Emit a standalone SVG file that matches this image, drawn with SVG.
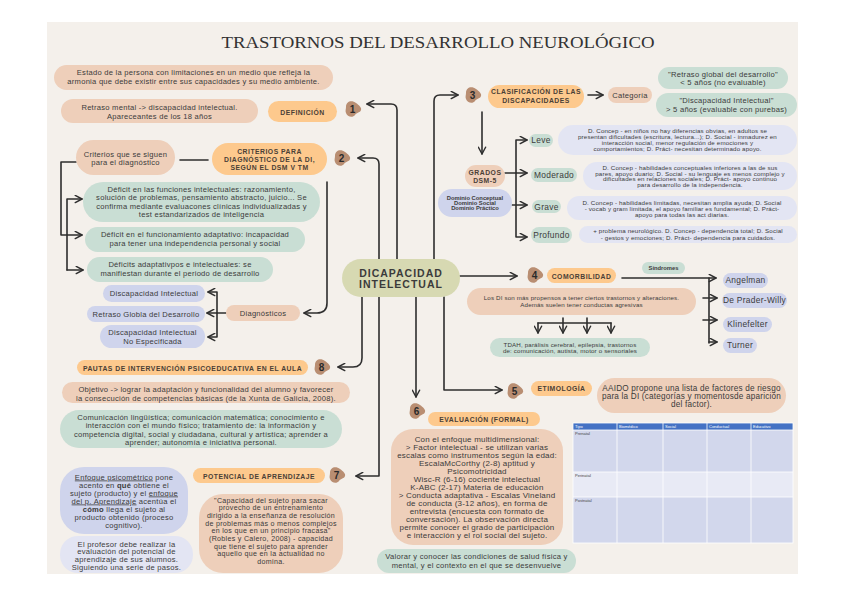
<svg xmlns="http://www.w3.org/2000/svg" width="848" height="599" viewBox="0 0 848 599">
<defs>
<style>
.t{font-family:"Liberation Sans",Arial,sans-serif;fill:#3b3b3b;text-anchor:middle}
.b{font-size:7.6px;letter-spacing:0.25px}
.c{font-size:7.1px;letter-spacing:0.3px}
.sm{font-size:6.2px;letter-spacing:0.15px}
.hd{font-size:6.8px;font-weight:bold;letter-spacing:0.5px;fill:#4a4036}
.lb{font-size:8.4px;letter-spacing:0.3px}
.num{font-size:10px;font-weight:bold;fill:#2a2a2a}
.ln{fill:none;stroke:#2e2e2e;stroke-width:1.6;stroke-linecap:round;stroke-linejoin:round}
.ar{marker-end:url(#ah)}
.pe{fill:#eecfba}
.or{fill:#fdc98d}
.gr{fill:#c9ded4}
.lv{fill:#cfd4ec}
.ll{fill:#e3e5f3}
.ol{fill:#d7d9b2}
.bl{fill:#b98e72}
.th{font-family:"Liberation Sans",Arial,sans-serif;font-size:4px;fill:#ffffff}
.tr{font-family:"Liberation Sans",Arial,sans-serif;font-size:4px;fill:#444444}
</style>
<marker id="ah" viewBox="0 0 10 10" refX="8.5" refY="5" markerWidth="9" markerHeight="9" markerUnits="userSpaceOnUse" orient="auto">
<path d="M1,1 L8.5,5 L1,9" fill="none" stroke="#2e2e2e" stroke-width="1.6" stroke-linecap="round" stroke-linejoin="round"/>
</marker>
<path id="blob" d="M-7,-2 C-7,-8 -1,-9 3,-6 C6,-4 9,-1 8,1 C7,4 4,3 2,6 C0,9 -6,8 -7,4 C-8,2 -7,0 -7,-2 Z"/>
</defs>
<rect width="848" height="599" fill="#ffffff"/>
<rect x="47" y="22" width="751" height="552" fill="#f4f0eb"/>
<text x="438" y="48" font-family="Liberation Serif,Times New Roman,serif" font-size="17.5" fill="#333333" text-anchor="middle" textLength="433" lengthAdjust="spacingAndGlyphs">TRASTORNOS DEL DESARROLLO NEUROLÓGICO</text>

<g id="connectors">
<path class="ln ar" d="M379,259 V164 Q379,158 373,158 H358"/>
<path class="ln ar" d="M397,259 V110 Q397,104 391,104 H367"/>
<path class="ln ar" d="M434,259 V101 Q434,95 440,95 H458"/>
<path class="ln ar" d="M460,276 H517"/>
<path class="ln ar" d="M362,297 V358 Q362,367 353,367 H338"/>
<path class="ln ar" d="M379,297 V476 H356"/>
<path class="ln ar" d="M416,297 V397"/>
<path class="ln ar" d="M444,297 V390 H502"/>
<path class="ln" d="M180,160 H208"/>
<path class="ln ar" d="M327,182 V303 Q327,313 317,313 H304"/>
<path class="ln ar" d="M76,162 H61 V235 H82"/>
<path class="ln ar" d="M67,270 V199 H82"/>
<path class="ln ar" d="M67,270 H83"/>
<path class="ln ar" d="M226,313 H207"/>
<path class="ln ar" d="M217,313 V292 H208"/>
<path class="ln ar" d="M217,313 V337 H208"/>
<path class="ln ar" d="M588,95 H603"/>
<path class="ln ar" d="M482,112 V154"/>
<path class="ln ar" d="M505,173 H527"/>
<path class="ln ar" d="M516,173 V140 H527"/>
<path class="ln ar" d="M512,205 H527"/>
<path class="ln ar" d="M516,173 V237 H527"/>
<path class="ln ar" d="M622,278 H716"/>
<path class="ln" d="M709,278 V343"/>
<path class="ln ar" d="M703,298 H717"/>
<path class="ln ar" d="M703,320 H717"/>
<path class="ln ar" d="M709,342 H717"/>
<path class="ln" d="M538,323 H611"/>
<path class="ln ar" d="M538,323 V333"/>
<path class="ln ar" d="M563,318 V333"/>
<path class="ln ar" d="M587,318 V333"/>
<path class="ln ar" d="M611,323 V333"/>
</g>

<g id="n-estado"><rect class="pe" x="54" y="65" width="279" height="25" rx="12.5"/>
<text class="t b" x="193.5" y="75">Estado de la persona con limitaciones en un medio que refleja la</text>
<text class="t b" x="193.5" y="84">armonia que debe existir entre sus capacidades y su medio ambiente.</text></g>
<g id="n-retraso"><rect class="pe" x="61" y="99" width="197" height="24" rx="12"/>
<text class="t b" x="159.5" y="109.5">Retraso mental -&gt; discapacidad intelectual.</text>
<text class="t b" x="159.5" y="118.5">Apareceantes de los 18 años</text></g>
<g id="n-definicion"><rect class="or" x="268" y="101" width="69" height="21" rx="10.5"/>
<text class="t hd" x="302.5" y="114.5">DEFINICIÓN</text></g>
<g id="b1"><use href="#blob" x="353" y="109" class="bl"/><text class="t num" x="352.5" y="112.5">1</text></g>

<g id="n-criterios-sig"><rect class="pe" x="76" y="140" width="99" height="35" rx="17.5"/>
<text class="t b" x="125.5" y="157">Criterios que se siguen</text>
<text class="t b" x="125.5" y="165">para el diagnóstico</text></g>
<g id="n-criterios"><rect class="or" x="212" y="143" width="115" height="32" rx="16"/>
<text class="t hd" x="269.5" y="153.5">CRITERIOS PARA</text>
<text class="t hd" x="269.5" y="161.5">DIAGNÓSTICO DE LA DI,</text>
<text class="t hd" x="269.5" y="170">SEGÚN EL DSM V TM</text></g>
<g id="b2"><use href="#blob" x="342" y="158" class="bl"/><text class="t num" x="341.5" y="161.5">2</text></g>

<g id="n-def1"><rect class="gr" x="83" y="182" width="237" height="40" rx="20"/>
<text class="t b" x="201.5" y="191.5">Déficit en las funciones intelectuales: razonamiento,</text>
<text class="t b" x="201.5" y="200">solución de problemas, pensamiento abstracto, juicio... Se</text>
<text class="t b" x="201.5" y="208.5">confirma mediante evaluacones clínicas individualizadas y</text>
<text class="t b" x="201.5" y="216.5">test estandarizados de inteligencia</text></g>
<g id="n-def2"><rect class="gr" x="85" y="227" width="220" height="25" rx="12.5"/>
<text class="t b" x="195" y="236.5">Déficit en el funcionamiento adaptativo: incapacidad</text>
<text class="t b" x="195" y="245.5">para tener una independencia personal y social</text></g>
<g id="n-def3"><rect class="gr" x="87" y="257" width="186" height="25" rx="12.5"/>
<text class="t b" x="180" y="267">Déficits adaptativpos e intelectuales: se</text>
<text class="t b" x="180" y="275.5">manifiestan durante el periodo de desarrollo</text></g>

<g id="n-di"><rect class="lv" x="103" y="285" width="102" height="17" rx="8.5"/>
<text class="t b" x="154" y="296">Discapacidad Intelectual</text></g>
<g id="n-rgd"><rect class="lv" x="87" y="306" width="118" height="16" rx="8"/>
<text class="t b" x="146" y="316.5">Retraso Globla del Desarrollo</text></g>
<g id="n-dine"><rect class="lv" x="100" y="325" width="105" height="23" rx="11.5"/>
<text class="t b" x="152.5" y="335">Discapacidad Intelectual</text>
<text class="t b" x="152.5" y="343.5">No Especificada</text></g>
<g id="n-diag"><rect class="pe" x="226" y="305" width="74" height="16" rx="8"/>
<text class="t b" x="263" y="315.5">Diagnósticos</text></g>

<g id="n-pautas"><rect class="or" x="77" y="360" width="231" height="15" rx="7.5"/>
<text class="t hd" x="192.5" y="370.5" font-size="6.6">PAUTAS DE INTERVENCIÓN PSICOEDUCATIVA EN EL AULA</text></g>
<g id="b8"><use href="#blob" x="322" y="367" class="bl"/><text class="t num" x="321.5" y="370.5">8</text></g>
<g id="n-objetivo"><rect class="pe" x="62" y="382" width="288" height="21" rx="10.5"/>
<text class="t b" x="206" y="391.5">Objetivo -&gt; lograr la adaptación y funcionalidad del alumno y favorecer</text>
<text class="t b" x="206" y="400.5">la consecución de competencias básicas (de la Xunta de Galicia, 2008).</text></g>
<g id="n-comunic"><rect class="gr" x="60" y="410" width="282" height="38" rx="19"/>
<text class="t b" x="201" y="419.5">Comunicación lingüística; comunicación matemática; conocimiento e</text>
<text class="t b" x="201" y="428">interacción con el mundo físico; tratamiento  de: la información y</text>
<text class="t b" x="201" y="436.5">competencia digital, social y ciudadana, cultural y artística; aprender a</text>
<text class="t b" x="201" y="445">aprender; autonomía e iniciativa personal.</text></g>

<g id="n-potencial"><rect class="or" x="193" y="468" width="132" height="15" rx="7.5"/>
<text class="t hd" x="259" y="478.5" font-size="6.6">POTENCIAL DE APRENDIZAJE</text></g>
<g id="b7"><use href="#blob" x="337" y="475" class="bl"/><text class="t num" x="336.5" y="478.5">7</text></g>
<g id="n-enfoque"><rect class="lv" x="60" y="467" width="128" height="67" rx="24"/>
<text class="t b" x="124" y="479.5"><tspan text-decoration="underline">Enfoque psicométrico</tspan> pone</text>
<text class="t b" x="124" y="487.5">acento en <tspan font-weight="bold">qué</tspan> obtiene el</text>
<text class="t b" x="124" y="495.5">sujeto (producto) y el <tspan text-decoration="underline">enfoque</tspan></text>
<text class="t b" x="124" y="503.5"><tspan text-decoration="underline">del p. Aprendizaje</tspan> acentúa el</text>
<text class="t b" x="124" y="511.5"><tspan font-weight="bold">cómo</tspan> llega el sujeto al</text>
<text class="t b" x="124" y="519.5">producto obtenido (proceso</text>
<text class="t b" x="124" y="527.5">cognitivo).</text></g>
<g id="n-profesor"><rect class="ll" x="60" y="536" width="133" height="37" rx="18"/>
<text class="t b" x="126.5" y="546.5">El profesor debe realizar la</text>
<text class="t b" x="126.5" y="554.2">evaluación del potencial de</text>
<text class="t b" x="126.5" y="561.9">aprendizaje de sus alumnos.</text>
<text class="t b" x="126.5" y="569.6">Siguiendo una serie de pasos.</text></g>
<g id="n-capacidad"><rect class="pe" x="199" y="494" width="144" height="79" rx="24"/>
<text class="t c" x="271" y="502.5">"Capacidad del sujeto para sacar</text>
<text class="t c" x="271" y="510.2">provecho de un entrenamiento</text>
<text class="t c" x="271" y="517.9">dirigido a la enseñanza de resolución</text>
<text class="t c" x="271" y="525.6">de problemas más o menos complejos</text>
<text class="t c" x="271" y="533.3">en los que en un principio fracasa"</text>
<text class="t c" x="271" y="541">(Robles y Calero, 2008) - capacidad</text>
<text class="t c" x="271" y="548.7">que tiene el sujeto para aprender</text>
<text class="t c" x="271" y="556.4">aquello que en la actualidad no</text>
<text class="t c" x="271" y="564.1">domina.</text></g>

<g id="n-center"><rect class="ol" x="342" y="259" width="118" height="38" rx="19"/>
<text class="t" x="401" y="276.7" font-size="10.5" font-weight="bold" letter-spacing="1" fill="#3a3a3a">DICAPACIDAD</text>
<text class="t" x="401" y="288" font-size="10.5" font-weight="bold" letter-spacing="1" fill="#3a3a3a">INTELECTUAL</text></g>

<g id="b3"><use href="#blob" x="473" y="95" class="bl"/><text class="t num" x="472.5" y="98.5">3</text></g>
<g id="n-clasif"><rect class="or" x="488" y="85" width="96" height="23" rx="11.5"/>
<text class="t hd" x="536" y="94.3">CLASIFICACIÓN DE LAS</text>
<text class="t hd" x="536" y="102.7">DISCAPACIDADES</text></g>
<g id="n-categoria"><rect class="pe" x="608" y="87" width="44" height="16" rx="8"/>
<text class="t b" x="630" y="97.5">Categoría</text></g>
<g id="n-rgd2"><rect class="gr" x="658" y="67" width="130" height="22" rx="11"/>
<text class="t b" x="723" y="76.7" font-size="7.3">"Retraso global del desarrollo"</text>
<text class="t b" x="723" y="85.4" font-size="7.3">&lt; 5 años (no evaluable)</text></g>
<g id="n-di2"><rect class="gr" x="656" y="93" width="141" height="24" rx="12"/>
<text class="t b" x="726.5" y="103.4" font-size="7.3">"Discapacidad Intelectual"</text>
<text class="t b" x="726.5" y="112" font-size="7.3">&gt; 5 años (evaluable con purebas)</text></g>

<g id="n-grados"><rect class="pe" x="465" y="165" width="40" height="22" rx="11"/>
<text class="t hd" x="485" y="174.5" font-size="7">GRADOS</text>
<text class="t hd" x="485" y="182.5" font-size="7">DSM-5</text></g>
<g id="n-dominio"><rect class="lv" x="438" y="189" width="74" height="28" rx="14"/>
<text class="t" x="475" y="199.7" font-size="5.8" font-weight="bold" fill="#4a4f6a">Dominio Conceptual</text>
<text class="t" x="475" y="204.5" font-size="5.8" font-weight="bold" fill="#4a4f6a">Dominio Social</text>
<text class="t" x="475" y="209.5" font-size="5.8" font-weight="bold" fill="#4a4f6a">Dominio Práctico</text></g>
<g id="n-leve"><rect class="gr" x="529" y="134" width="24" height="13" rx="6.5"/>
<text class="t lb" x="541" y="143.3">Leve</text></g>
<g id="n-moderado"><rect class="gr" x="531" y="168" width="46" height="14" rx="7"/>
<text class="t lb" x="554" y="178">Moderado</text></g>
<g id="n-grave"><rect class="gr" x="532" y="200" width="29" height="13" rx="6.5"/>
<text class="t lb" x="546.5" y="209.5">Grave</text></g>
<g id="n-profundo"><rect class="gr" x="531" y="227" width="41" height="16" rx="8"/>
<text class="t lb" x="551.5" y="238">Profundo</text></g>
<g id="n-leve-d"><rect class="ll" x="558" y="125" width="239" height="30" rx="15"/>
<text class="t sm" x="677.5" y="133.2">D. Concep - en niños no hay diferencias obvias, en adultos se</text>
<text class="t sm" x="677.5" y="139">presentan dificultades (escritura, lectura...); D. Social - inmadurez en</text>
<text class="t sm" x="677.5" y="145">interacción social, menor regulación de emociones y</text>
<text class="t sm" x="677.5" y="150.5">comportamientos; D. Práct- necesitan determinado apoyo.</text></g>
<g id="n-mod-d"><rect class="ll" x="583" y="162" width="214" height="28" rx="14"/>
<text class="t sm" x="690" y="170">D. Concep - habilidades conceptuales inferiores a las de sus</text>
<text class="t sm" x="690" y="175.6">pares, apoyo duario; D. Social - su lenguaje es menos complejo y</text>
<text class="t sm" x="690" y="181.3">dificultades en relaciones sociales; D. Práct- apoyo continuo</text>
<text class="t sm" x="690" y="187.3">para desarrollo de la independencia.</text></g>
<g id="n-grave-d"><rect class="ll" x="567" y="196" width="230" height="24" rx="12"/>
<text class="t sm" x="682" y="204.6">D. Concep - habilidades limitadas, necesitan amplia ayuda; D. Social</text>
<text class="t sm" x="682" y="211.3">- vocab y gram limitada, el apoyo familiar es fundamental; D. Práct-</text>
<text class="t sm" x="682" y="216.8">apoyo para todas las act diarias.</text></g>
<g id="n-prof-d"><rect class="ll" x="579" y="226" width="218" height="17" rx="8.5"/>
<text class="t sm" x="688" y="233.3">+ problema neurológico. D. Concep - dependencia total; D. Social</text>
<text class="t sm" x="688" y="240">- gestos y emociones; D. Práct- dependencia para cuidados.</text></g>

<g id="b4"><use href="#blob" x="535" y="275" class="bl"/><text class="t num" x="534.5" y="278.5">4</text></g>
<g id="n-comorb"><rect class="or" x="547" y="268" width="69" height="15" rx="7.5"/>
<text class="t hd" x="581.5" y="278.5">COMORBILIDAD</text></g>
<g id="n-sindromes"><rect class="gr" x="642" y="262" width="43" height="12" rx="6"/>
<text class="t" x="663.5" y="270.2" font-size="5.8" font-weight="bold" fill="#4a4a4a">Síndromes</text></g>
<g id="n-angelman"><rect class="lv" x="723" y="273" width="45" height="15" rx="7.5"/>
<text class="t lb" x="745.5" y="283.3" font-size="8">Angelman</text></g>
<g id="n-prader"><rect class="lv" x="722" y="293" width="65" height="15" rx="7.5"/>
<text class="t lb" x="754.5" y="303.3" font-size="8">De Prader-Willy</text></g>
<g id="n-kline"><rect class="lv" x="723" y="317" width="49" height="15" rx="7.5"/>
<text class="t lb" x="747.5" y="327.3" font-size="8">Klinefelter</text></g>
<g id="n-turner"><rect class="lv" x="723" y="338" width="34" height="15" rx="7.5"/>
<text class="t lb" x="740" y="348.3" font-size="8">Turner</text></g>
<g id="n-losdi"><rect class="pe" x="467" y="288" width="229" height="27" rx="13.5"/>
<text class="t sm" x="581.5" y="300.3" font-size="6.5">Los DI son más propensos a tener ciertos trastornos y alteraciones.</text>
<text class="t sm" x="581.5" y="306.6" font-size="6.5">Además suelen tener conductas agresivas</text></g>
<g id="n-tdah"><rect class="gr" x="490" y="338" width="160" height="19" rx="9.5"/>
<text class="t sm" x="570" y="346.5" font-size="6.5">TDAH, parálisis cerebral, epilepsia, trastornos</text>
<text class="t sm" x="570" y="353.3" font-size="6.5">de: comunicación, autista, motor o sensoriales</text></g>

<g id="b5"><use href="#blob" x="515" y="391" class="bl"/><text class="t num" x="514.5" y="394.5">5</text></g>
<g id="n-etimo"><rect class="or" x="531" y="381" width="61" height="15" rx="7.5"/>
<text class="t hd" x="561.5" y="391.2">ETIMOLOGÍA</text></g>
<g id="n-aaido"><rect class="pe" x="597" y="378" width="189" height="35" rx="17.5"/>
<text class="t" x="691.5" y="391.3" font-size="8.2" letter-spacing="0.2">AAIDO propone una lista de factores de riesgo</text>
<text class="t" x="691.5" y="399" font-size="8.2" letter-spacing="0.2">para la DI (categorías y momentosde aparición</text>
<text class="t" x="691.5" y="407" font-size="8.2" letter-spacing="0.2">del factor).</text></g>

<g id="b6"><use href="#blob" x="417" y="411" class="bl"/><text class="t num" x="416.5" y="414.5">6</text></g>
<g id="n-eval"><rect class="or" x="428" y="412" width="112" height="14" rx="7"/>
<text class="t hd" x="484" y="421.7">EVALUACIÓN (FORMAL)</text></g>
<g id="n-eval-d"><rect class="pe" x="391" y="429" width="172" height="116" rx="22"/>
<text class="t" font-size="8" letter-spacing="0.2" x="477" y="442.2">Con el enfoque multidimensional:</text>
<text class="t" font-size="8" letter-spacing="0.2" x="477" y="450.2">&gt; Factor intelectual - se utilizan varias</text>
<text class="t" font-size="8" letter-spacing="0.2" x="477" y="457.9">escalas como instrumentos según la edad:</text>
<text class="t" font-size="8" letter-spacing="0.2" x="477" y="466.2">EscalaMcCorthy (2-8) aptitud y</text>
<text class="t" font-size="8" letter-spacing="0.2" x="477" y="473.9">Psicomotricidad</text>
<text class="t" font-size="8" letter-spacing="0.2" x="477" y="481.9">Wisc-R (6-16) cociente intelectual</text>
<text class="t" font-size="8" letter-spacing="0.2" x="477" y="489.9">K-ABC (2-17) Materia de educación</text>
<text class="t" font-size="8" letter-spacing="0.2" x="477" y="498.2">&gt; Conducta adaptativa - Escalas Vineland</text>
<text class="t" font-size="8" letter-spacing="0.2" x="477" y="506.2">de conducta (3-12 años), en forma de</text>
<text class="t" font-size="8" letter-spacing="0.2" x="477" y="513.9">entrevista (encuesta con formato de</text>
<text class="t" font-size="8" letter-spacing="0.2" x="477" y="521.9">conversación). La observación directa</text>
<text class="t" font-size="8" letter-spacing="0.2" x="477" y="529.9">permite conocer el grado de participación</text>
<text class="t" font-size="8" letter-spacing="0.2" x="477" y="537.9">e interacción  y el rol social del sujeto.</text></g>
<g id="n-valorar"><rect class="gr" x="377" y="549" width="199" height="24" rx="12"/>
<text class="t b" x="476.5" y="559">Valorar y conocer las condiciones de salud física y</text>
<text class="t b" x="476.5" y="568">mental, y el contexto en el que se desenvuelve</text></g>

<g id="table">
<rect x="573" y="423" width="220" height="120" fill="#d2d7ec"/>
<rect x="573" y="423" width="220" height="7" fill="#4472c4"/>
<rect x="573" y="472" width="220" height="25" fill="#e8eaf5"/>
<g stroke="#ffffff" stroke-width="0.8" fill="none">
<path d="M617,423 V543 M663,423 V543 M707,423 V543 M751,423 V543"/>
<path d="M573,430 H793 M573,472 H793 M573,497 H793"/>
<rect x="573" y="423" width="220" height="120"/>
</g>
<text class="th" x="575" y="428.3">Tipo</text>
<text class="th" x="619" y="428.3">Biomédico</text>
<text class="th" x="665" y="428.3">Social</text>
<text class="th" x="709" y="428.3">Conductual</text>
<text class="th" x="753" y="428.3">Educativo</text>
<text class="tr" x="575" y="435">Prenatal</text>
<text class="tr" x="575" y="477">Perinatal</text>
<text class="tr" x="575" y="502">Postnatal</text>
</g>
</svg>
